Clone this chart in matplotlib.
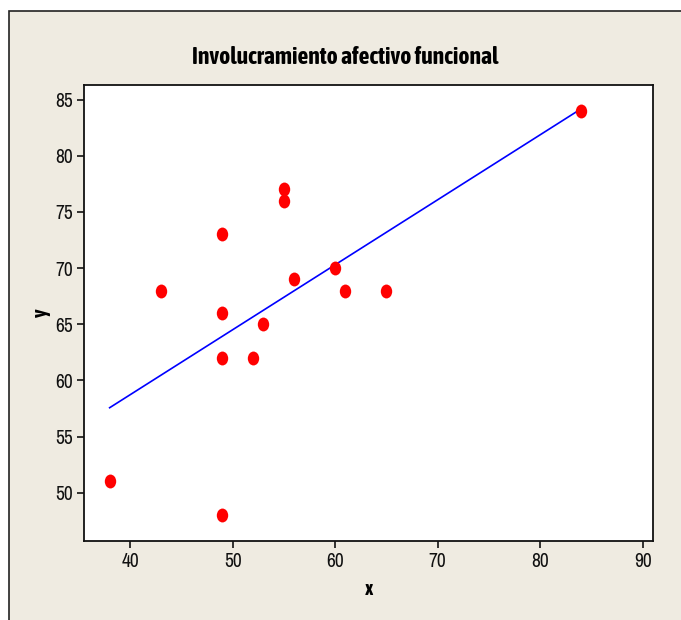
import numpy as np
import matplotlib
matplotlib.use("Agg")
import matplotlib.pyplot as plt
from matplotlib.patches import Rectangle
from matplotlib.path import Path
from matplotlib.transforms import Affine2D

# data
x = [38, 43, 49, 49, 49, 49, 52, 53, 55, 55, 56, 60, 61, 65, 84]
y = [51, 68, 73, 66, 62, 48, 62, 65, 77, 76, 69, 70, 68, 68, 84]
xticks = [40, 50, 60, 70, 80, 90]
yticks = [50, 55, 60, 65, 70, 75, 80, 85]

plt.rcParams['font.family'] = ['Archivo Narrow', 'DejaVu Sans']
bold_font = ['Asap Condensed', 'Archivo Narrow', 'DejaVu Sans']

fig = plt.figure(figsize=(6.81, 6.20), dpi=100)
fig.patch.set_facecolor('white')

# beige panel behind the graph
W, H = 681, 620
fig.patches.append(Rectangle((9 / W, -0.1), 1.2, (H - 11) / H + 0.1,
                             transform=fig.transFigure, facecolor='#EFEBE1',
                             edgecolor='#222222', linewidth=1.2, zorder=-10))

ax = fig.add_axes([84 / W, (H - 541) / H, (653 - 84) / W, (541 - 85) / H])
ax.set_facecolor('white')

# slightly tall elliptical marker
ell = Path.unit_circle().transformed(Affine2D().scale(0.82, 1.0))

# regression line
b, a = np.polyfit(x, y, 1)
xl = np.array([min(x), max(x)])
ax.plot(xl, a + b * xl, color='#0000FF', linewidth=1.2, zorder=2)
ax.plot(x, y, linestyle='none', marker=ell, markersize=10,
        color='#FF0000', markeredgewidth=0, zorder=3)

ax.set_xlim(35.5, 91)
ax.set_ylim(45.7, 86.3)
ax.set_xticks(xticks)
ax.set_yticks(yticks)
ax.tick_params(direction='out', length=5, width=1.2, labelsize=14,
               colors='#111111', pad=3)
for s in ax.spines.values():
    s.set_linewidth(1.3)
    s.set_color('#111111')

ax.set_xlabel('x', fontsize=15, fontweight='bold', family=bold_font, labelpad=6)
ax.set_ylabel('y', fontsize=15, fontweight='bold', family=bold_font, labelpad=3)

fig.text(345 / W, 1 - 57 / H, 'Involucramiento afectivo funcional',
         ha='center', va='center', fontsize=17, fontweight='bold',
         family=bold_font)

fig.savefig('out.png', dpi=100)
